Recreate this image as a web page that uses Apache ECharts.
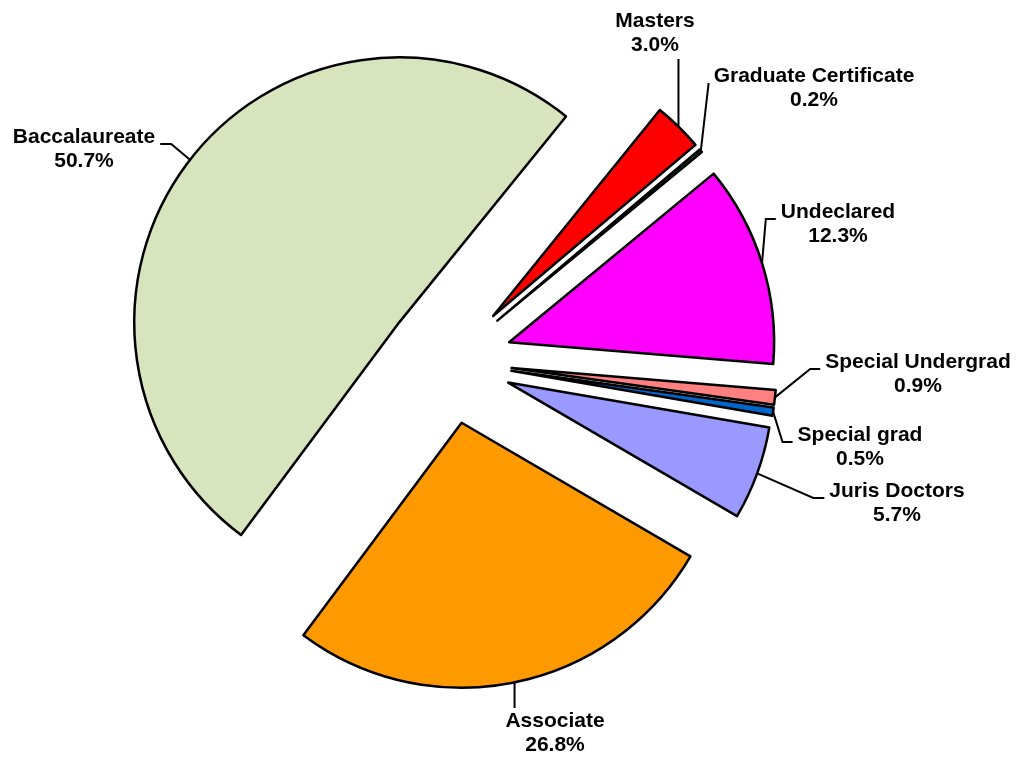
<!DOCTYPE html>
<html lang="en">
  <head>
    <meta charset="UTF-8" />
    <title>Enrollment by Program</title>
    <script src="https://cdn.jsdelivr.net/npm/echarts@6.0.0/dist/echarts.min.js"></script>
    <style>
      html, body { margin: 0; background: #ffffff; }
      #programChart { width: 1021px; height: 760px; }
    </style>
  </head>
  <body>
    <div id="programChart"></div>

    <script type="text/javascript">
      // slices in clockwise order, the first one starts just right of 12 o'clock
      const programs = [
        "Masters",
        "Graduate Certificate",
        "Undeclared",
        "Special Undergrad",
        "Special grad",
        "Juris Doctors",
        "Associate",
        "Baccalaureate",
      ];
      const shares = [3.0, 0.2, 12.3, 0.9, 0.5, 5.7, 26.8, 50.7];

      const sliceColors = [
        "#ff0000",
        "#12372a",
        "#ff00ff",
        "#ff8080",
        "#0066cc",
        "#9999ff",
        "#ff9900",
        "#d8e4bd",
      ];

      // where each label sits and from which side its leader line comes in
      const labelSpots = [
        { x: 655, y: 33, side: "bottom" },
        { x: 814, y: 88, side: "left", elbow: 0 },
        { x: 838, y: 224, side: "left", elbow: 10 },
        { x: 918, y: 374, side: "left", elbow: 10 },
        { x: 860, y: 447, side: "left", elbow: 10 },
        { x: 897, y: 503, side: "left", elbow: 11 },
        { x: 555, y: 733, side: "top" },
        { x: 84, y: 149, side: "right", elbow: 11 },
      ];

      const pieCenter = [449, 361];
      const pieRadius = 265;
      const explode = 63;

      const programChart = echarts.init(document.getElementById("programChart"));

      // leader line: from the middle of the pulled-out arc to the label edge
      // (labels live on an unselected twin series so the select shift doesn't move them)
      function placeLabel(params) {
        const spot = labelSpots[params.dataIndex];
        const w = params.labelRect.width;
        const h = params.labelRect.height;
        const lay = programChart
          .getModel()
          .getSeriesByIndex(1)
          .getData()
          .getItemLayout(params.dataIndex);
        const mid = (lay.startAngle + lay.endAngle) / 2;
        const reach = lay.r + explode;
        const arc = [lay.cx + Math.cos(mid) * reach, lay.cy + Math.sin(mid) * reach];
        let end, bend;
        if (spot.side === "left") {
          end = [spot.x - w / 2 - 5, spot.y - 5];
          bend = [end[0] - spot.elbow, end[1]];
        } else if (spot.side === "right") {
          end = [spot.x + w / 2 + 5, spot.y - 5];
          bend = [end[0] + spot.elbow, end[1]];
        } else if (spot.side === "bottom") {
          end = [arc[0], spot.y + h / 2 + 2];
          bend = end;
        } else {
          end = [arc[0], spot.y - h / 2 - 1];
          bend = end;
        }
        return {
          x: spot.x,
          y: spot.y,
          align: "center",
          verticalAlign: "middle",
          labelLinePoints: [arc, bend, end],
        };
      }

      const sliceBorder = { borderColor: "#000000", borderWidth: 2.5 };

      let programOptions = {
        backgroundColor: "#ffffff",
        animation: false,
        series: [
          {
            // the exploded slices
            type: "pie",
            center: pieCenter,
            radius: pieRadius,
            startAngle: 51,
            clockwise: true,
            selectedMode: "multiple",
            selectedOffset: explode,
            silent: true,
            emphasis: { disabled: true },
            select: { itemStyle: sliceBorder },
            itemStyle: sliceBorder,
            label: { show: false },
            labelLine: { show: false },
            data: programs.map((name, i) => ({
              name: name,
              value: shares[i],
              selected: true,
              itemStyle: { color: sliceColors[i] },
            })),
          },
          {
            // invisible twin carrying the labels and leader lines
            type: "pie",
            center: pieCenter,
            radius: pieRadius,
            startAngle: 51,
            clockwise: true,
            selectedMode: false,
            silent: true,
            avoidLabelOverlap: false,
            emphasis: { disabled: true },
            itemStyle: { color: "rgba(0,0,0,0)", borderWidth: 0 },
            label: {
              show: true,
              position: "outside",
              formatter: (p) => p.name + "\n" + p.value.toFixed(1) + "%",
              fontFamily: "Liberation Sans, Arial, sans-serif",
              fontWeight: "bold",
              fontSize: 21,
              lineHeight: 24,
              color: "#000000",
            },
            labelLine: {
              show: true,
              lineStyle: { color: "#000000", width: 2 },
            },
            labelLayout: placeLabel,
            data: programs.map((name, i) => ({ name: name, value: shares[i] })),
          },
        ],
      };

      programChart.setOption(programOptions);
    </script>
  </body>
</html>
